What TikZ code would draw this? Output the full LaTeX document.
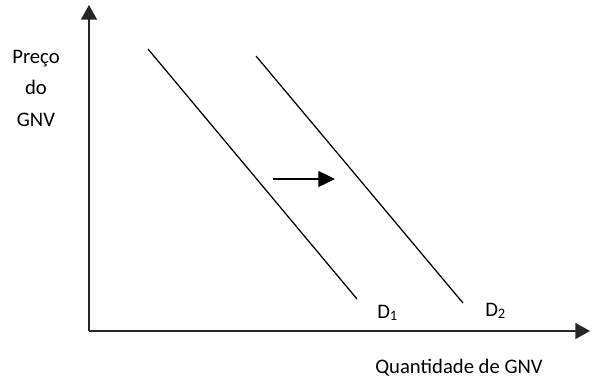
\documentclass[tikz,border=0pt]{standalone}
\usepackage{fontspec}
\setmainfont{Carlito}
\usepackage{tikz}
\usetikzlibrary{arrows.meta, positioning, calc}
\tikzset{
  ax/.style={-{Triangle[length=11pt,width=12pt]}, line width=1.1pt, color=black!85},
  dline/.style={line width=0.95pt, color=black},
  shiftarr/.style={-{Triangle[length=12.5pt,width=12pt]}, line width=0.95pt, color=black},
  lbl/.style={font=\fontsize{15.5pt}{18pt}\selectfont, inner sep=0pt, anchor=base},
}
\begin{document}
\begin{tikzpicture}[x=0.75pt, y=-0.75pt]
    \useasboundingbox (0,0) rectangle (594,379);

    \coordinate (o) at (89,331);
    \coordinate (ytop) at (89,5);
    \coordinate (xend) at (590,331);
    \draw[ax] (o) -- (ytop);
    \draw[ax] (o) -- (xend);

    \coordinate (d1a) at (148,49);
    \coordinate (d1b) at (357,299);
    \coordinate (d2a) at (256,56);
    \coordinate (d2b) at (463,303);
    \draw[dline] (d1a) -- (d1b);
    \draw[dline] (d2a) -- (d2b);

    \coordinate (sa) at (273,179);
    \coordinate (sb) at (335,179);
    \draw[shiftarr] (sa) -- (sb);

    \node[lbl] (preco) at (36,63) {Preço};
    \node[lbl] (do) at (36,94.5) {do};
    \node[lbl] (gnv) at (36,126) {GNV};

    \node[lbl, anchor=base west] (dum) at (377,318) {D\textsubscript{1}};
    \node[lbl, anchor=base west] (ddois) at (485,316) {D\textsubscript{2}};

    \node[lbl] (qtd) at (459,373) {Quantidade de GNV};
\end{tikzpicture}
\end{document}
